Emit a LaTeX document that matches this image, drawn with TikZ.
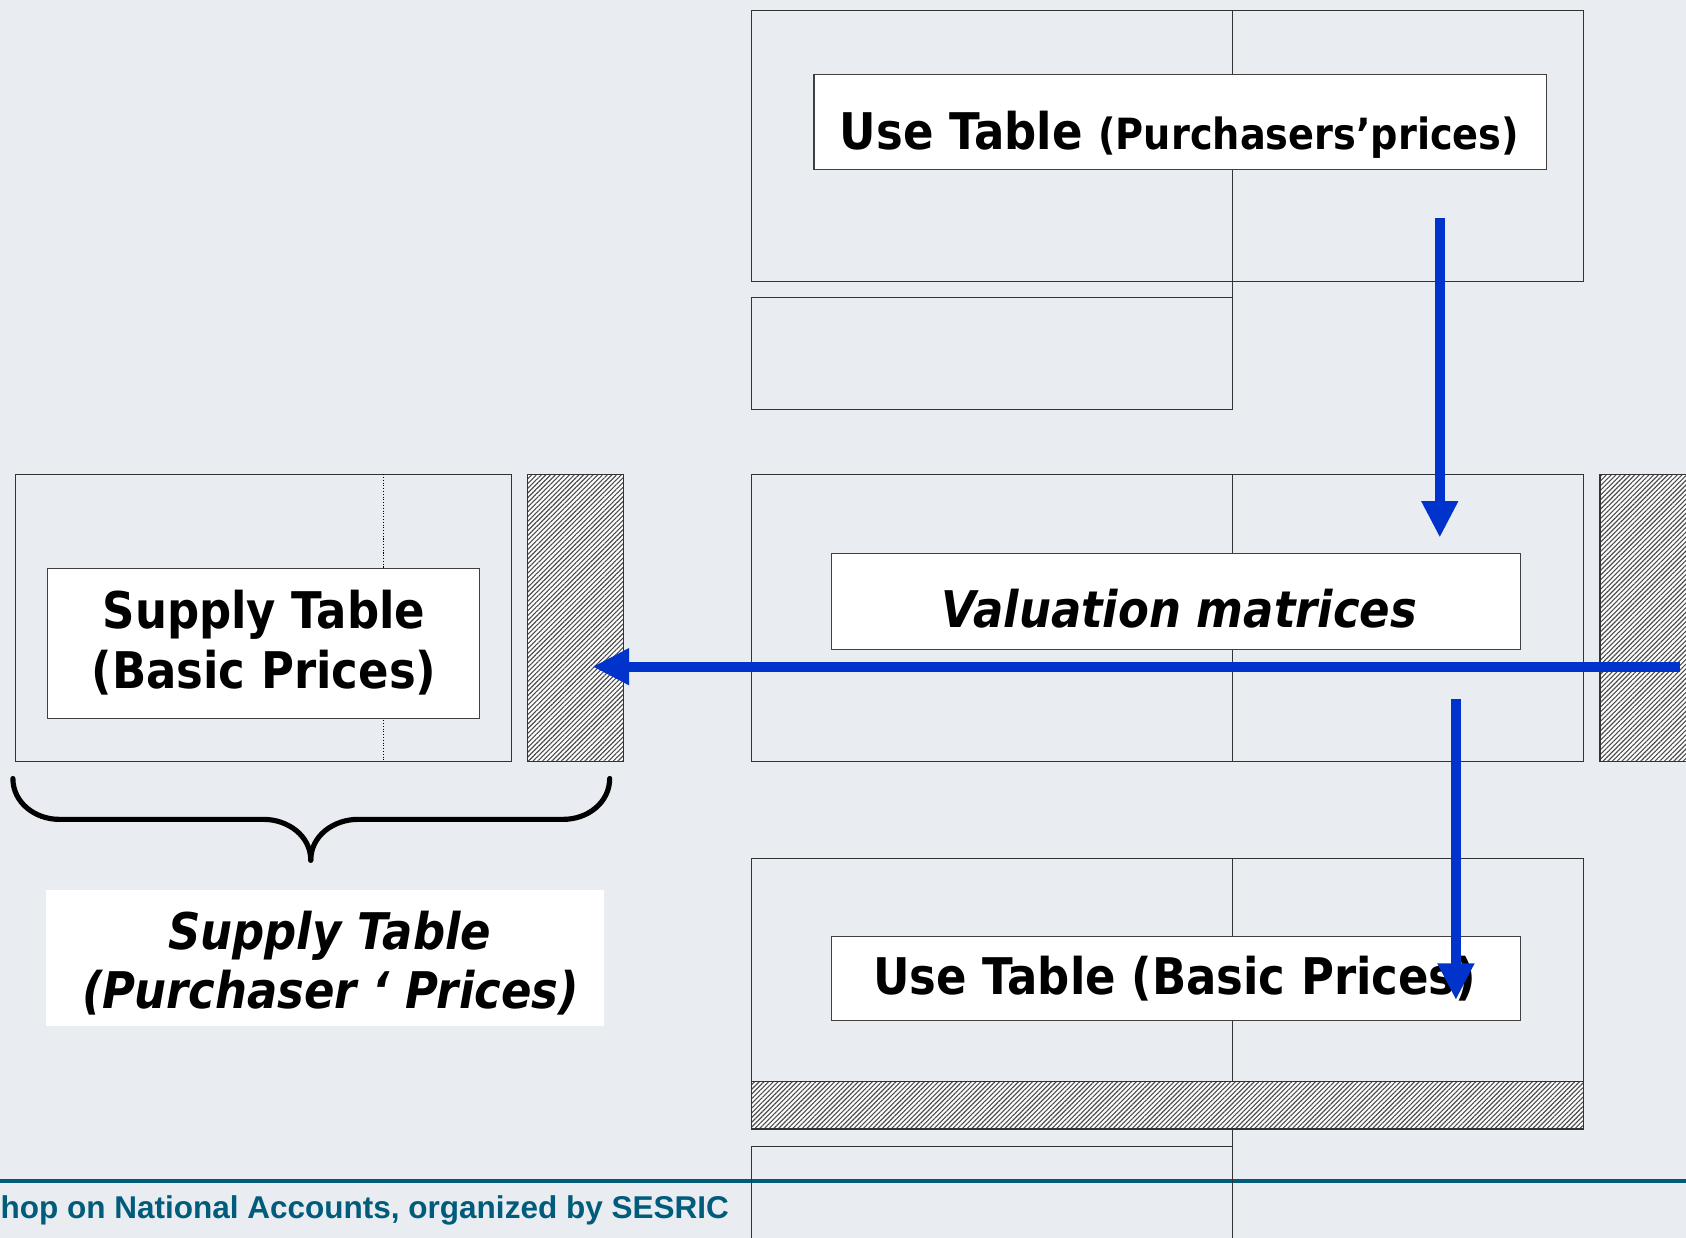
\documentclass[tikz,border=0pt]{standalone}
\usepackage{fontspec}
\usetikzlibrary{arrows.meta,patterns.meta}
\newfontfamily\vfont[FakeStretch=0.89]{DejaVu Sans}
\newfontfamily\ffont{Liberation Sans}
\definecolor{bgc}{RGB}{233,236,241}
\definecolor{arrblue}{RGB}{0,51,204}
\definecolor{footteal}{RGB}{0,92,122}
\newcommand{\hatchrect}[4]{%
  \fill[white] (#1,#2) rectangle (#3,#4);
  \fill[pattern={Lines[angle=45,distance=3.1pt,line width=1.05pt]},pattern color=black!70] (#1,#2) rectangle (#3,#4);
  \draw[frame] (#1,#2) rectangle (#3,#4);}
\begin{document}
\begin{tikzpicture}[x=1pt,y=-1pt,
  frame/.style={draw=black!80,line width=1pt},
  wbox/.style={draw=black!75,line width=1pt,fill=white},
  lbl/.style={inner sep=0pt,anchor=base,font=\vfont\bfseries\fontsize{47}{56}\selectfont},
  ilbl/.style={lbl,font=\vfont\bfseries\itshape\fontsize{47}{56}\selectfont},
  bluearrow/.style={draw=arrblue,line width=9pt,-{Triangle[length=34pt,width=32pt]}},
  bracestyle/.style={draw=black,line width=4.8pt,line cap=round,line join=round}]
\useasboundingbox (0,0) rectangle (1568,1151);
\clip (0,0) rectangle (1568,1151);
\fill[bgc] (0,0) rectangle (1568,1151);

% ---- top use table (purchasers' prices)
\draw[frame] (699,10) rectangle (1473,262);
\draw[frame] (1146,10) -- (1146,277);
\draw[frame] (699,277) rectangle (1146,381);
\draw[wbox] (757,69) rectangle (1438,158);
\node[lbl] (utp) at (1097,139) {Use Table {\fontsize{40}{48}\selectfont(Purchasers’prices)}};

% ---- middle left supply table
\draw[frame] (14,441) rectangle (476,708);
\draw[draw=black,line width=1.1pt,dash pattern=on 1pt off 1.6pt] (357,441) -- (357,708);
\draw[wbox] (44,529) rectangle (446,668);
\node[lbl] (stb1) at (245.5,584.5) {Supply Table};
\node[lbl] (stb2) at (245.5,640) {(Basic Prices)};
\hatchrect{491}{441}{580}{708}

% ---- middle valuation matrices
\draw[frame] (699,441) rectangle (1473,708);
\draw[frame] (1146,441) -- (1146,708);
\draw[wbox] (773,515) rectangle (1414,604);
\node[ilbl] (val) at (1097,584) {Valuation matrices};
\hatchrect{1488}{441}{1600}{708}

% ---- footer line
\draw[footteal,line width=3.7pt] (0,1098) -- (1568,1098);

% ---- bottom use table (basic prices)
\draw[frame] (699,798) rectangle (1473,1050);
\draw[frame] (1146,798) -- (1146,1160);
\hatchrect{699}{1006}{1473}{1050}
\draw[frame] (699,1066) rectangle (1146,1170);
\draw[wbox] (773,871) rectangle (1414,949);
\node[lbl] (utb) at (1092.5,925) {Use Table (Basic Prices)};

% ---- brace and label
\draw[bracestyle] (12,724) to[out=-90,in=180] (55,762) -- (245,762) to[out=0,in=90] (289,800);
\draw[bracestyle] (289,800) to[out=90,in=180] (333,762) -- (524,762) to[out=0,in=-90] (567,724);
\fill[white] (43,828) rectangle (562,954);
\node[ilbl] (stp1) at (306.5,883) {Supply Table};
\node[ilbl] (stp2) at (307.5,938) {(Purchaser ‘ Prices)};

% ---- footer text
\node[inner sep=0pt,anchor=base east,text=footteal,font=\ffont\bfseries\fontsize{29.3}{34}\selectfont] (foot) at (678,1133) {hop on National Accounts, organized by SESRIC};

% ---- arrows
\coordinate (a1s) at (1339,203);
\coordinate (a1e) at (1339,500);
\coordinate (a2s) at (1562,620);
\coordinate (a2e) at (551,620);
\coordinate (a3s) at (1354,650);
\coordinate (a3e) at (1354,930);
\draw[bluearrow] (a1s) -- (a1e);
\draw[bluearrow] (a2s) -- (a2e);
\draw[bluearrow] (a3s) -- (a3e);
\end{tikzpicture}
\end{document}
